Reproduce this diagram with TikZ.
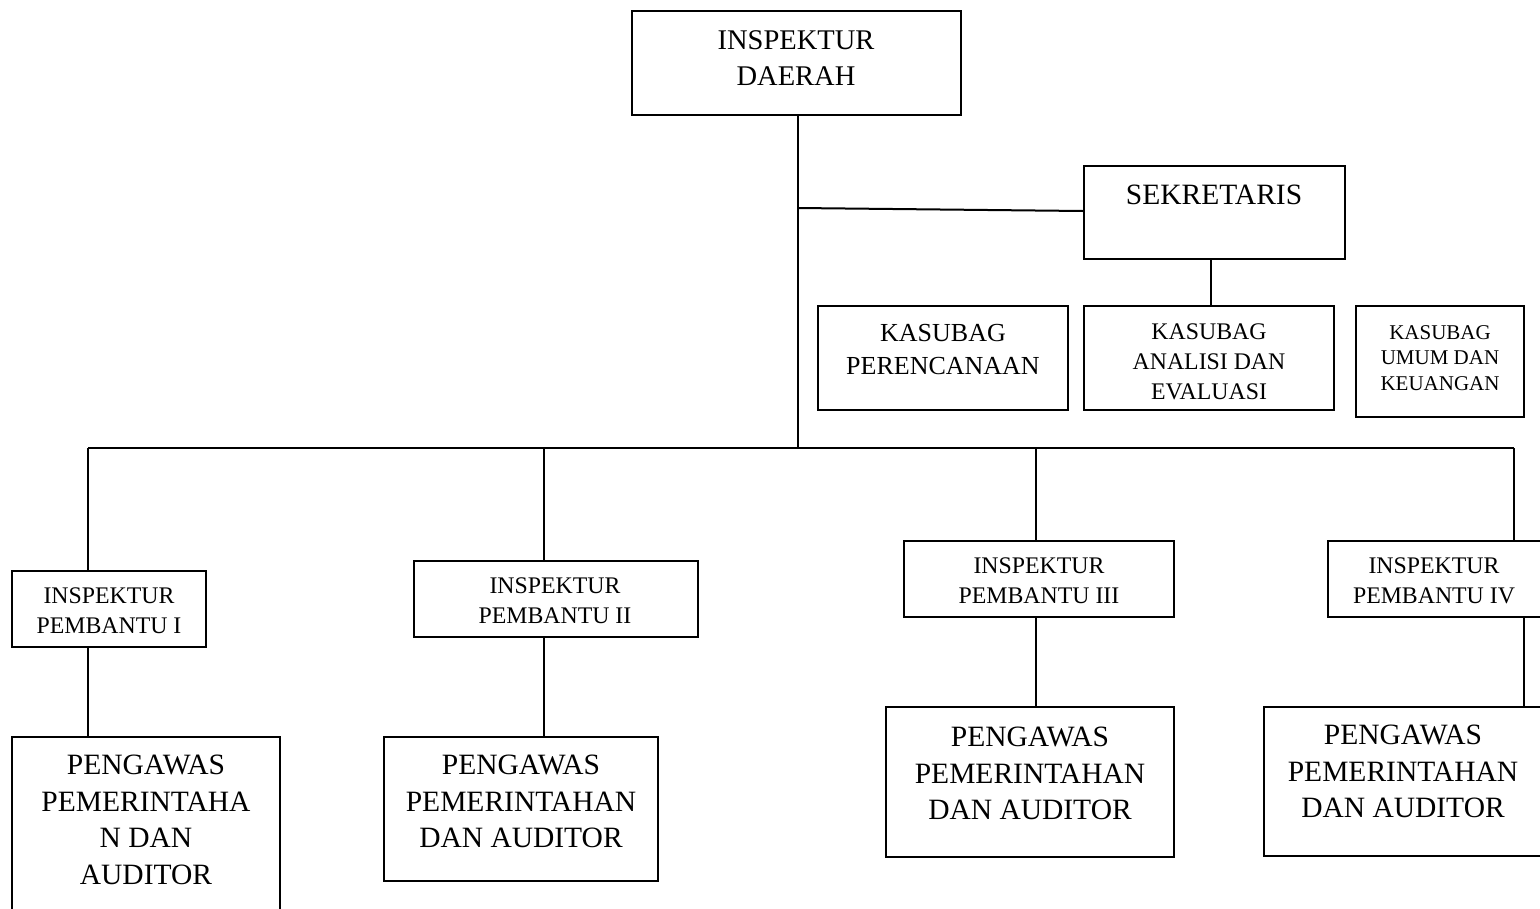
\documentclass[tikz,border=0pt]{standalone}
\usepackage{fontspec}
\setmainfont{Liberation Serif}
\begin{document}
\begin{tikzpicture}[x=1pt,y=-1pt,
  box/.style={draw=black,line width=2pt,inner sep=0pt,rectangle},
  txt/.style={inner sep=0pt,align=center,text=black},
  top/.style={font=\fontsize{28.5}{36.5}\selectfont},
  big/.style={font=\fontsize{29.5}{36.5}\selectfont},
  mid/.style={font=\fontsize{26}{33}\selectfont},
  sm/.style={font=\fontsize{23.8}{30}\selectfont},
  xs/.style={font=\fontsize{21}{25.5}\selectfont},
  conn/.style={draw=black,line width=2pt},
]
\useasboundingbox (0,0) rectangle (1540,908);
\clip (0,0) rectangle (1540,908);
% boxes
\node[box,minimum width=329,minimum height=104] (kd) at (796.5,63) {};
\node[box,minimum width=261,minimum height=93] (sek) at (1214.5,212.5) {};
\node[box,minimum width=250,minimum height=104] (kper) at (943,358) {};
\node[box,minimum width=250,minimum height=104] (kana) at (1209,358) {};
\node[box,minimum width=168,minimum height=111] (kumum) at (1440,361.5) {};
\node[box,minimum width=194,minimum height=76] (p1) at (109,609) {};
\node[box,minimum width=284,minimum height=76] (p2) at (556,599) {};
\node[box,minimum width=270,minimum height=76] (p3) at (1039,579) {};
\node[box,minimum width=217,minimum height=76] (p4) at (1436.5,579) {};
\node[box,minimum width=268,minimum height=183] (g1) at (146,828.5) {};
\node[box,minimum width=274,minimum height=144] (g2) at (521,809) {};
\node[box,minimum width=288,minimum height=150] (g3) at (1030,782) {};
\node[box,minimum width=281,minimum height=149] (g4) at (1404.5,781.5) {};
% texts
\node[txt,top] (kdt) at (796,58) {INSPEKTUR\\DAERAH};
\node[txt,big] (sekt) at (1214,195) {SEKRETARIS};
\node[txt,mid] (kpert) at (943,349.5) {KASUBAG\\PERENCANAAN};
\node[txt,sm] (kanat) at (1209,361.5) {KASUBAG\\ANALISI DAN\\EVALUASI};
\node[txt,xs] (kumumt) at (1440,358) {KASUBAG\\UMUM DAN\\KEUANGAN};
\node[txt,sm] (p1t) at (109,611) {INSPEKTUR\\PEMBANTU I};
\node[txt,sm] (p2t) at (555,601) {INSPEKTUR\\PEMBANTU II};
\node[txt,sm] (p3t) at (1039,581) {INSPEKTUR\\PEMBANTU III};
\node[txt,sm] (p4t) at (1434,581) {INSPEKTUR\\PEMBANTU IV};
\node[txt,big] (g1t) at (146,820) {PENGAWAS\\PEMERINTAHA\\N DAN\\AUDITOR};
\node[txt,big] (g2t) at (521,801.5) {PENGAWAS\\PEMERINTAHAN\\DAN AUDITOR};
\node[txt,big] (g3t) at (1030,773.5) {PENGAWAS\\PEMERINTAHAN\\DAN AUDITOR};
\node[txt,big] (g4t) at (1403,771.5) {PENGAWAS\\PEMERINTAHAN\\DAN AUDITOR};
% junction coordinates
\coordinate (trunk) at (798,448);
\coordinate (sj) at (798,208);
\coordinate (c1) at (88,448);
\coordinate (c2) at (544,448);
\coordinate (c3) at (1036,448);
\coordinate (c4) at (1514,448);
\coordinate (c4b) at (1524,448);
\coordinate (sx) at (1211,0);
% connectors
\draw[conn] (kd.south -| trunk) -- (trunk);
\draw[conn] (sj) -- ([yshift=1.5]sek.west);
\draw[conn] (sek.south -| sx) -- (kana.north -| sx);
\draw[conn] (c1) -- (c4);
\draw[conn] (c1) -- (p1.north -| c1);
\draw[conn] (c2) -- (p2.north -| c2);
\draw[conn] (c3) -- (p3.north -| c3);
\draw[conn] (c4) -- (p4.north -| c4);
\draw[conn] (p1.south -| c1) -- (g1.north -| c1);
\draw[conn] (p2.south -| c2) -- (g2.north -| c2);
\draw[conn] (p3.south -| c3) -- (g3.north -| c3);
\draw[conn] (p4.south -| c4b) -- (g4.north -| c4b);
\end{tikzpicture}
\end{document}
